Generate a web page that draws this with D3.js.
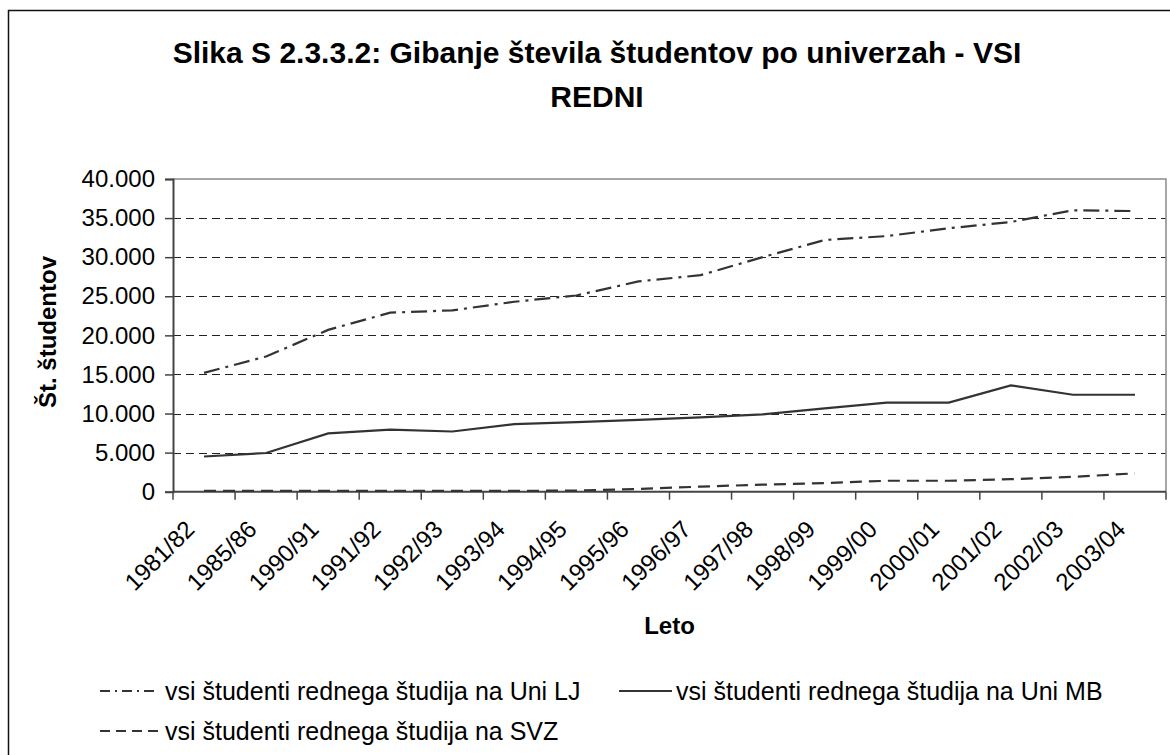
<!DOCTYPE html>
<html>
<head>
<meta charset="utf-8">
<script src="https://cdn.jsdelivr.net/npm/d3@7/dist/d3.min.js"></script>
<style>
	body { margin: 0; background: #fff; }
	svg { display: block; font-family: 'Liberation Sans', Arial, sans-serif; }
</style>
</head>
<body>
<svg id="viz"></svg>
<script>
var categories = [ '1981/82', '1985/86', '1990/91', '1991/92', '1992/93', '1993/94', '1994/95', '1995/96',
	'1996/97', '1997/98', '1998/99', '1999/00', '2000/01', '2001/02', '2002/03', '2003/04' ];

var ljValues = [ 15200, 17300, 20700, 22900, 23200, 24300, 25100, 26900, 27700, 30000, 32200, 32700, 33700, 34500, 36000, 35900 ];
var mbValues = [ 4500, 4950, 7450, 7950, 7700, 8650, 8900, 9200, 9500, 9900, 10650, 11400, 11400, 13600, 12400, 12400 ];
var svzValues = [ 100, 100, 100, 100, 100, 100, 150, 350, 650, 900, 1100, 1400, 1400, 1600, 1900, 2350 ];

var yTicks = [ 0, 5000, 10000, 15000, 20000, 25000, 30000, 35000, 40000 ];

var seriesNames = [
	'vsi študenti rednega študija na Uni LJ',
	'vsi študenti rednega študija na Uni MB',
	'vsi študenti rednega študija na SVZ'
];

var dashes = [ '16,6,3,6', null, '12,7' ];
var lineColor = '#333';

var width = 1170, height = 755;
var plot = { left: 173, right: 1166, top: 179, bottom: 491.7 };

var svg = d3.select( '#viz' )
	.attr( 'width', width )
	.attr( 'height', height );

// outer chart frame
svg.append( 'rect' )
	.attr( 'x', 8.5 )
	.attr( 'y', 10.5 )
	.attr( 'width', 1180 )
	.attr( 'height', 780 )
	.attr( 'fill', '#fff' )
	.attr( 'stroke', '#111' )
	.attr( 'stroke-width', 1.5 );

var xScale = d3.scaleBand()
	.domain( categories )
	.range( [ plot.left, plot.right ] )
	.padding( 0 );

var yScale = d3.scaleLinear()
	.domain( [ 0, 40000 ] )
	.range( [ plot.bottom, plot.top ] );

var locale = d3.formatLocale( { decimal: ',', thousands: '.', grouping: [ 3 ], currency: [ '', '' ] } );
var fmt = locale.format( ',d' );

// gridlines
svg.append( 'g' ).selectAll( 'line' )
	.data( yTicks.filter( function ( d ) { return d > 0 && d < 40000; } ) )
	.enter()
	.append( 'line' )
	.attr( 'x1', plot.left )
	.attr( 'x2', plot.right )
	.attr( 'y1', function ( d ) { return Math.round( yScale( d ) ) + 0.5; } )
	.attr( 'y2', function ( d ) { return Math.round( yScale( d ) ) + 0.5; } )
	.attr( 'stroke', '#222' )
	.attr( 'stroke-width', 1 )
	.attr( 'stroke-dasharray', '8,5' );

// plot border top / right
svg.append( 'path' )
	.attr( 'd', 'M' + plot.left + ',' + yScale( 40000 ) + 'H' + plot.right + 'V' + plot.bottom )
	.attr( 'fill', 'none' )
	.attr( 'stroke', '#8a8a8a' )
	.attr( 'stroke-width', 1.5 );

// y axis
var yAxis = svg.append( 'g' )
	.attr( 'transform', 'translate(' + plot.left + ',0)' )
	.call( d3.axisLeft( yScale ).tickValues( yTicks ).tickFormat( fmt ).tickSize( 8 ).tickPadding( 10 ) );
yAxis.select( '.domain' ).attr( 'stroke', '#444' ).attr( 'stroke-width', 2 );
yAxis.selectAll( '.tick line' ).attr( 'stroke', '#444' ).attr( 'stroke-width', 1.5 );
yAxis.selectAll( '.tick text' )
	.attr( 'fill', '#000' )
	.style( 'font-size', '24px' );

// x axis with ticks at band boundaries
var xAxis = svg.append( 'g' )
	.attr( 'transform', 'translate(0,' + plot.bottom + ')' );
xAxis.append( 'line' )
	.attr( 'x1', plot.left )
	.attr( 'x2', plot.right )
	.attr( 'stroke', '#444' )
	.attr( 'stroke-width', 2 );
xAxis.selectAll( 'line.tick' )
	.data( categories.concat( [ null ] ) )
	.enter()
	.append( 'line' )
	.classed( 'tick', true )
	.attr( 'x1', function ( d ) { return d === null ? plot.right : xScale( d ); } )
	.attr( 'x2', function ( d ) { return d === null ? plot.right : xScale( d ); } )
	.attr( 'y1', 0 )
	.attr( 'y2', 8 )
	.attr( 'stroke', '#444' )
	.attr( 'stroke-width', 1.5 );
xAxis.selectAll( 'text' )
	.data( categories )
	.enter()
	.append( 'text' )
	.attr( 'transform', function ( d ) {
		return 'translate(' + ( xScale( d ) + xScale.bandwidth() / 2 - 8 ) + ',39) rotate(-45)';
	} )
	.attr( 'text-anchor', 'end' )
	.style( 'font-size', '24px' )
	.text( function ( d ) { return d; } );

// lines
var line = d3.line()
	.x( function ( d, i ) { return xScale( categories[i] ) + xScale.bandwidth() / 2; } )
	.y( function ( d ) { return yScale( d ); } );

var series = [ ljValues, mbValues, svzValues ];
svg.append( 'g' ).selectAll( 'path' )
	.data( series )
	.enter()
	.append( 'path' )
	.attr( 'd', line )
	.attr( 'fill', 'none' )
	.attr( 'stroke', lineColor )
	.attr( 'stroke-width', 2.2 )
	.attr( 'stroke-dasharray', function ( d, i ) { return dashes[i]; } );

// titles
svg.append( 'text' )
	.attr( 'x', 597 )
	.attr( 'text-anchor', 'middle' )
	.style( 'font-size', '30px' )
	.style( 'font-weight', 'bold' )
	.selectAll( 'tspan' )
	.data( [ 'Slika S 2.3.3.2: Gibanje števila študentov po univerzah - VSI', 'REDNI' ] )
	.enter()
	.append( 'tspan' )
	.attr( 'x', 597 )
	.attr( 'y', function ( d, i ) { return 63 + i * 44; } )
	.text( function ( d ) { return d; } );

svg.append( 'text' )
	.attr( 'x', ( plot.left + plot.right ) / 2 )
	.attr( 'y', 634 )
	.attr( 'text-anchor', 'middle' )
	.style( 'font-size', '24px' )
	.style( 'font-weight', 'bold' )
	.text( 'Leto' );

svg.append( 'text' )
	.attr( 'transform', 'translate(56,332) rotate(-90)' )
	.attr( 'text-anchor', 'middle' )
	.style( 'font-size', '24px' )
	.style( 'font-weight', 'bold' )
	.text( 'Št. študentov' );

// legend
var legendPos = [ { x: 100, y: 691 }, { x: 619, y: 691 }, { x: 100, y: 731 } ];
var legend = svg.append( 'g' ).selectAll( 'g' )
	.data( seriesNames )
	.enter()
	.append( 'g' )
	.attr( 'transform', function ( d, i ) { return 'translate(' + legendPos[i].x + ',' + legendPos[i].y + ')'; } );
legend.append( 'line' )
	.attr( 'x1', 0 )
	.attr( 'x2', function ( d, i ) { return i === 1 ? 53 : 58; } )
	.attr( 'stroke', lineColor )
	.attr( 'stroke-width', 2 )
	.attr( 'stroke-dasharray', function ( d, i ) { return i === 0 ? '10,5,2,5' : ( i === 2 ? '10,6' : null ); } );
legend.append( 'text' )
	.attr( 'x', function ( d, i ) { return i === 1 ? 57 : 65; } )
	.attr( 'y', 9 )
	.style( 'font-size', '25px' )
	.text( function ( d ) { return d; } );
</script>
</body>
</html>
